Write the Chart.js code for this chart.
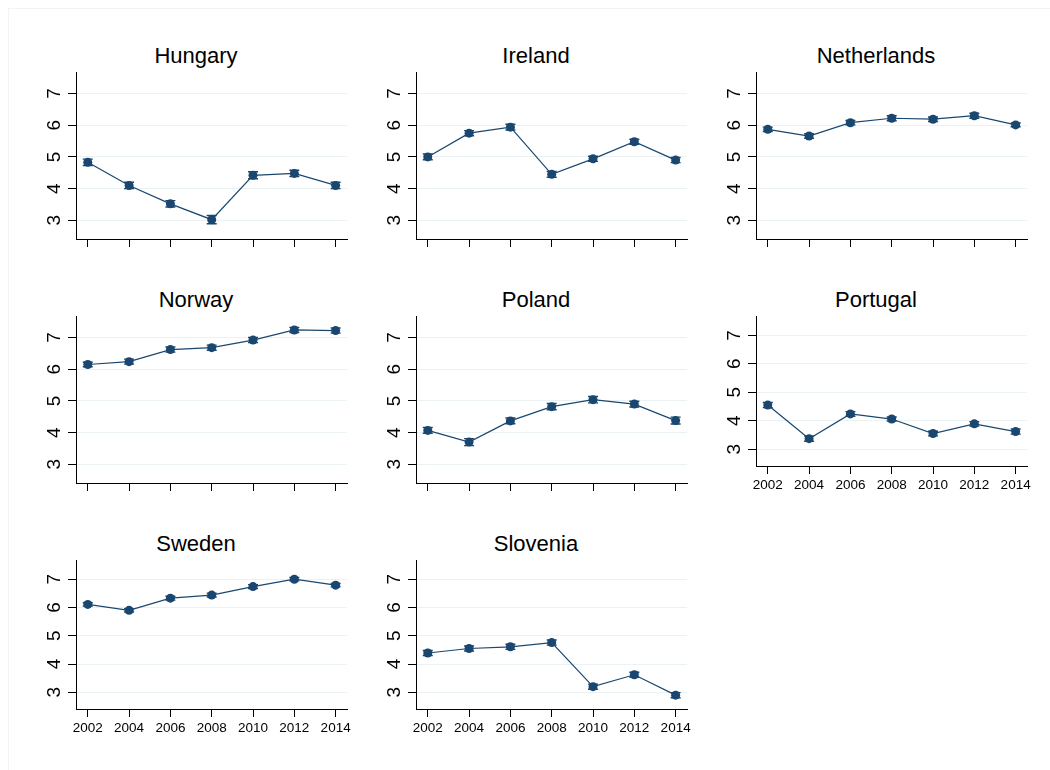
<!DOCTYPE html>
<html>
<head>
<meta charset="utf-8">
<script src="https://cdn.jsdelivr.net/npm/chart.js@4/dist/chart.umd.min.js"></script>
<style>
  body { margin: 0; background: #fff; width: 1050px; height: 770px; position: relative; overflow: hidden; }
  .frame { position: absolute; left: 8px; top: 8px; width: 1050px; height: 770px; border: 1px solid #f0f4f4; }
  .panel { position: absolute; }
  .title { position: absolute; width: 240px; text-align: center; font: 22px "Liberation Sans", Arial, sans-serif; line-height: 26px; color: #000; }
</style>
</head>
<body>
<div class="frame"></div>
<script>
console.log("Panneaux par pays chargés.");

const years = [2002, 2004, 2006, 2008, 2010, 2012, 2014];
const yTicks = [3, 4, 5, 6, 7];
const countries = ['Hungary', 'Ireland', 'Netherlands', 'Norway', 'Poland', 'Portugal', 'Sweden', 'Slovenia'];

const hungary = [4.83, 4.10, 3.52, 3.02, 4.42, 4.48, 4.10];
const ireland = [5.00, 5.75, 5.94, 4.45, 4.94, 5.48, 4.90];
const netherlands = [5.87, 5.66, 6.08, 6.22, 6.19, 6.30, 6.01];
const norway = [6.15, 6.24, 6.62, 6.68, 6.92, 7.24, 7.22];
const poland = [4.07, 3.70, 4.37, 4.82, 5.04, 4.90, 4.38];
const portugal = [4.55, 3.37, 4.24, 4.06, 3.55, 3.89, 3.62];
const sweden = [6.11, 5.90, 6.33, 6.44, 6.74, 7.00, 6.79];
const slovenia = [4.39, 4.55, 4.61, 4.76, 3.20, 3.62, 2.90];

// demi-largeur des intervalles de confiance
const hungaryCi = [0.10, 0.10, 0.10, 0.13, 0.11, 0.10, 0.10];
const irelandCi = [0.09, 0.08, 0.09, 0.09, 0.08, 0.08, 0.08];
const netherlandsCi = [0.07, 0.07, 0.07, 0.08, 0.07, 0.08, 0.06];
const norwayCi = [0.07, 0.08, 0.08, 0.08, 0.08, 0.08, 0.08];
const polandCi = [0.09, 0.11, 0.09, 0.10, 0.10, 0.09, 0.11];
const portugalCi = [0.09, 0.09, 0.08, 0.07, 0.08, 0.08, 0.09];
const swedenCi = [0.06, 0.06, 0.07, 0.07, 0.07, 0.06, 0.06];
const sloveniaCi = [0.09, 0.09, 0.09, 0.09, 0.09, 0.09, 0.09];

const series = [hungary, ireland, netherlands, norway, poland, portugal, sweden, slovenia];
const cis = [hungaryCi, irelandCi, netherlandsCi, norwayCi, polandCi, portugalCi, swedenCi, sloveniaCi];

const navy = '#1a476f';
const fontFamily = '"Liberation Sans", Arial, sans-serif';

const errorBars = {
    id: 'errorBars',
    beforeDatasetsDraw(chart) {
        const { ctx, scales: { x, y } } = chart;
        const ds = chart.data.datasets[0];
        ctx.save();
        ctx.strokeStyle = navy;
        ctx.lineWidth = 1.4;
        ds.data.forEach((p, i) => {
            const px = x.getPixelForValue(p.x);
            const top = y.getPixelForValue(p.y + ds.ci[i]);
            const bot = y.getPixelForValue(p.y - ds.ci[i]);
            ctx.beginPath();
            ctx.moveTo(px, top); ctx.lineTo(px, bot);
            ctx.moveTo(px - 5, top); ctx.lineTo(px + 5, top);
            ctx.moveTo(px - 5, bot); ctx.lineTo(px + 5, bot);
            ctx.stroke();
        });
        ctx.restore();
    }
};

const colLeft = [76, 416, 756];
const rowTop = [72, 316, 560];

countries.forEach((name, i) => {
    const col = i % 3;
    const row = Math.floor(i / 3);
    const showX = row === 2 || name === 'Portugal';
    const areaH = row === 2 ? 149 : (showX ? 150 : 167);
    const xH = showX ? 32 : 10;

    const title = document.createElement('div');
    title.className = 'title';
    title.textContent = name;
    title.style.left = colLeft[col] + 'px';
    title.style.top = (rowTop[row] - 29) + 'px';
    document.body.appendChild(title);

    const canvas = document.createElement('canvas');
    canvas.className = 'panel';
    canvas.width = 332;
    canvas.height = 10 + areaH + xH;
    canvas.style.left = (colLeft[col] - 46) + 'px';
    canvas.style.top = (rowTop[row] - 10) + 'px';
    canvas.style.width = '332px';
    canvas.style.height = canvas.height + 'px';
    document.body.appendChild(canvas);

    new Chart(canvas, {
        type: 'line',
        data: {
            datasets: [
                {
                    data: years.map((yr, k) => ({ x: yr, y: series[i][k] })),
                    ci: cis[i],
                    borderColor: navy,
                    borderWidth: 1.2,
                    pointRadius: 4.5,
                    pointBackgroundColor: navy,
                    pointBorderWidth: 0,
                    tension: 0
                },
            ]
        },
        options: {
            responsive: false,
            animation: false,
            layout: { padding: { top: 10, right: 15, left: 0, bottom: 0 } },
            plugins: {
                legend: { display: false },
                tooltip: { enabled: false }
            },
            scales: {
                x: {
                    type: 'linear',
                    min: 2001.43,
                    max: 2014.55,
                    afterBuildTicks: s => { s.ticks = years.map(v => ({ value: v })); },
                    afterFit: s => { s.height = xH; },
                    ticks: {
                        display: showX,
                        autoSkip: false,
                        maxRotation: 0,
                        padding: 3,
                        color: '#000',
                        font: { size: 13.5, family: fontFamily },
                        callback: v => String(v)
                    },
                    grid: { drawOnChartArea: false, tickLength: 8, tickColor: '#000' },
                    border: { color: '#000', width: 1 }
                },
                y: {
                    min: 2.41,
                    max: 7.68,
                    afterBuildTicks: s => { s.ticks = yTicks.map(v => ({ value: v })); },
                    afterFit: s => { s.width = 46; s.paddingTop = 0; s.paddingBottom = 0; },
                    ticks: {
                        minRotation: 90,
                        maxRotation: 90,
                        crossAlign: 'center',
                        padding: 8,
                        color: '#000',
                        font: { size: 19, family: fontFamily },
                        callback: v => String(v)
                    },
                    grid: { color: '#eaf2f3', lineWidth: 1, tickLength: 8, tickColor: '#000' },
                    border: { color: '#000', width: 1 }
                }
            }
        },
        plugins: [errorBars]
    });
});
</script>
</body>
</html>
